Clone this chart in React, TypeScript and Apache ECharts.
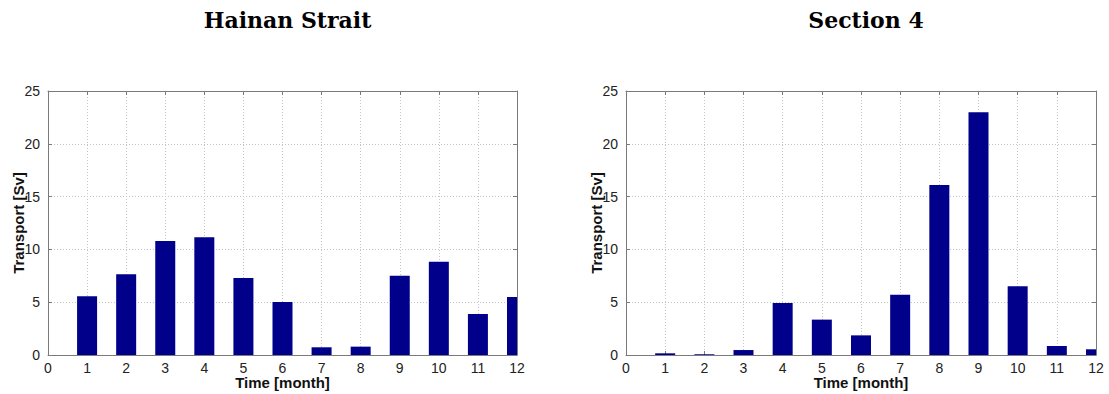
import React, { useEffect, useRef } from "react";
import * as echarts from "echarts";

const months = [1, 2, 3, 4, 5, 6, 7, 8, 9, 10, 11, 12];
const hainanStrait = [5.56, 7.64, 10.8, 11.14, 7.29, 5.02, 0.73, 0.79, 7.51, 8.84, 3.88, 5.49];
const section4 = [0.16, 0.07, 0.47, 4.92, 3.35, 1.86, 5.71, 16.1, 22.98, 6.5, 0.85, 0.54];
const titles = ["Hainan Strait", "Section 4"];
const xName = "Time [month]";
const yName = "Transport [Sv]";

const gridPos = [
  { left: 48, top: 91, width: 469, height: 264 },
  { left: 626, top: 91, width: 470, height: 264 },
];

const BAR = "#00008a";
const AXIS = "#7a7a7a";
const LABEL_FONT = "Liberation Sans, Arial, sans-serif";
const BAR_PX = 20;

export default function App() {
  const ref = useRef<HTMLDivElement>(null);
  useEffect(() => {
    if (!ref.current) return;
    const chart = echarts.init(ref.current, undefined, { renderer: "svg" });
    const seriesData = [hainanStrait, section4];
    const xAxes: any[] = [];
    const yAxes: any[] = [];
    const series: any[] = [];
    gridPos.forEach((g, i) => {
      xAxes.push({
        type: "value",
        gridIndex: i,
        min: 0,
        max: 12,
        interval: 1,
        position: "bottom",
        name: xName,
        nameLocation: "middle",
        nameGap: 20,
        nameMoveOverlap: false,
        nameTextStyle: { fontFamily: LABEL_FONT, fontWeight: "bold", fontSize: 15, lineHeight: 15, color: "#111" },
        axisLine: { show: true, onZero: false, lineStyle: { color: AXIS, width: 1 } },
        axisTick: { show: true, inside: true, length: 4, lineStyle: { color: AXIS } },
        axisLabel: { show: true, margin: 6, fontFamily: LABEL_FONT, fontSize: 14, lineHeight: 13, color: "#222" },
        splitLine: { show: true, lineStyle: { color: "#c4c4c4", type: [1, 2], width: 1 } },
      });
      xAxes.push({
        type: "value",
        gridIndex: i,
        min: 0,
        max: 12,
        interval: 1,
        position: "top",
        axisLine: { show: true, onZero: false, lineStyle: { color: AXIS, width: 1 } },
        axisTick: { show: true, inside: true, length: 4, lineStyle: { color: AXIS } },
        axisLabel: { show: false },
        splitLine: { show: false },
      });
      yAxes.push({
        type: "value",
        gridIndex: i,
        min: 0,
        max: 25,
        interval: 5,
        position: "left",
        name: yName,
        nameLocation: "middle",
        nameGap: 22,
        nameMoveOverlap: false,
        nameTextStyle: { fontFamily: LABEL_FONT, fontWeight: "bold", fontSize: 15, lineHeight: 15, color: "#111" },
        axisLine: { show: true, onZero: false, lineStyle: { color: AXIS, width: 1 } },
        axisTick: { show: true, inside: true, length: 4, lineStyle: { color: AXIS } },
        axisLabel: { show: true, margin: 8, fontFamily: LABEL_FONT, fontSize: 14, color: "#222" },
        splitLine: { show: true, lineStyle: { color: "#c4c4c4", type: [1, 2], width: 1 } },
      });
      yAxes.push({
        type: "value",
        gridIndex: i,
        min: 0,
        max: 25,
        interval: 5,
        position: "right",
        axisLine: { show: true, onZero: false, lineStyle: { color: AXIS, width: 1 } },
        axisTick: { show: true, inside: true, length: 4, lineStyle: { color: AXIS } },
        axisLabel: { show: false },
        splitLine: { show: false },
      });
      series.push({
        type: "custom",
        xAxisIndex: i * 2,
        yAxisIndex: i * 2,
        z: 2,
        data: months.map((m, k) => [m, seriesData[i][k]]),
        renderItem: (params: any, api: any) => {
          const xv = api.value(0);
          const yv = api.value(1);
          const base = api.coord([xv, 0]);
          const top = api.coord([xv, yv]);
          const cs = params.coordSys;
          const shape = echarts.graphic.clipRectByRect(
            { x: base[0] - BAR_PX / 2, y: top[1], width: BAR_PX, height: base[1] - top[1] },
            { x: cs.x, y: cs.y, width: cs.width, height: cs.height }
          );
          if (!shape) return null;
          return { type: "rect", shape, style: { fill: BAR } };
        },
      });
    });
    chart.setOption({
      animation: false,
      backgroundColor: "#ffffff",
      title: titles.map((t, i) => ({
        text: t,
        left: gridPos[i].left + gridPos[i].width / 2,
        top: 4,
        textAlign: "center",
        textStyle: {
          fontFamily: "DejaVu Serif, Liberation Serif, serif",
          fontWeight: "bold",
          fontSize: 22,
          color: "#000",
        },
      })),
      grid: gridPos.map((g) => ({ ...g, containLabel: false, outerBoundsMode: "none" })),
      xAxis: xAxes,
      yAxis: yAxes,
      series,
    });
    return () => chart.dispose();
  }, []);
  return (
    <div
      ref={ref}
      style={{ position: "absolute", left: 0, top: 0, width: 1109, height: 394 }}
    />
  );
}
